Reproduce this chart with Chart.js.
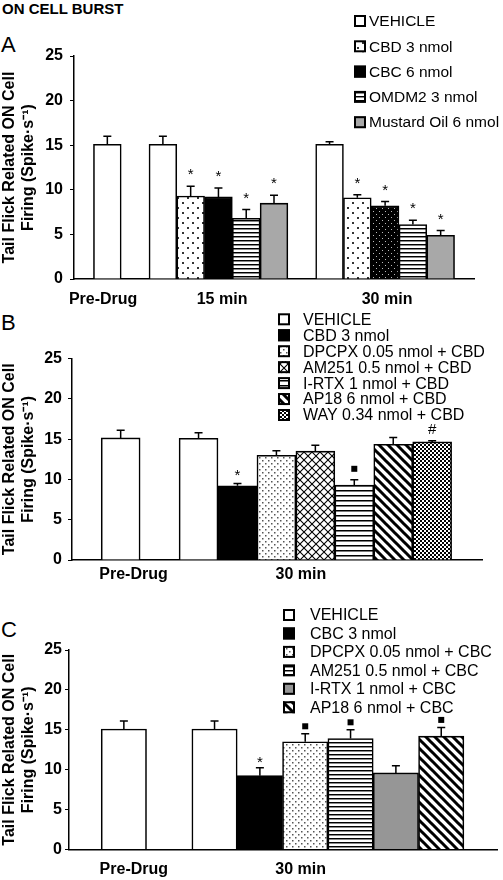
<!DOCTYPE html>
<html>
<head>
<meta charset="utf-8">
<script src="https://cdn.jsdelivr.net/npm/chart.js@4.4.1/dist/chart.umd.min.js"></script>
<style>
  html, body { margin: 0; padding: 0; background: #fff; }
  body { width: 503px; height: 880px; position: relative; overflow: hidden; font-family: 'Liberation Sans', Arial, sans-serif; }
  canvas { position: absolute; left: 0; }
  .lbl { position: absolute; line-height: 1; color: #000; white-space: nowrap; }
</style>
</head>
<body>
<div class="lbl" style="left:2px;top:1px;font-size:15px;font-weight:bold">ON CELL BURST</div>
<div class="lbl" style="left:1px;top:34px;font-size:22px">A</div>
<div class="lbl" style="left:1px;top:312px;font-size:22px">B</div>
<div class="lbl" style="left:1px;top:619px;font-size:22px">C</div>
<canvas id="chartA" width="503" height="310" style="top:0"></canvas>
<canvas id="chartB" width="503" height="290" style="top:300px"></canvas>
<canvas id="chartC" width="503" height="290" style="top:590px"></canvas>
<script>
// ---------------- data ----------------
const yTitle = ['Tail Flick Related ON Cell', 'Firing (Spike·s⁻¹)'];

// panel A
const timesA = ['Pre-Drug', '15 min', '30 min'];
const groupsA = ['VEHICLE', 'CBD 3 nmol', 'CBC 6 nmol', 'OMDM2 3 nmol', 'Mustard Oil 6 nmol'];
const meanA = [
  [15.1, 15.1, 15.1],
  [null, 9.3, 9.1],
  [null, 9.2, 8.2],
  [null, 6.8, 6.1],
  [null, 8.5, 4.9]
];
const semA = [
  [0.9, 0.9, 0.3],
  [null, 1.1, 0.35],
  [null, 1.0, 0.5],
  [null, 1.0, 0.5],
  [null, 0.9, 0.55]
];
const markA = [
  [null, null, null],
  [null, '*', '*'],
  [null, '*', '*'],
  [null, '*', '*'],
  [null, '*', '*']
];

// panel B
const timesB = ['Pre-Drug', '30 min'];
const groupsB = ['VEHICLE', 'CBD 3 nmol', 'DPCPX 0.05 nmol + CBD', 'AM251 0.5 nmol + CBD',
  'I-RTX 1 nmol + CBD', 'AP18 6 nmol + CBD', 'WAY 0.34 nmol + CBD'];
const meanB = [[15.15, 15.1], [null, 9.2], [null, 13.0], [null, 13.5], [null, 9.3], [null, 14.35], [null, 14.65]];
const semB = [[0.95, 0.7], [null, 0.3], [null, 0.55], [null, 0.75], [null, 0.65], [null, 0.85], [null, 0.15]];
const markB = [[null, null], [null, '*'], [null, null], [null, null], [null, '■'], [null, null], [null, '#']];

// panel C
const timesC = ['Pre-Drug', '30 min'];
const groupsC = ['VEHICLE', 'CBC 3 nmol', 'DPCPX 0.05 nmol + CBC', 'AM251 0.5 nmol + CBC',
  'I-RTX 1 nmol + CBC', 'AP18 6 nmol + CBC'];
const meanC = [[15.1, 15.1], [null, 9.25], [null, 13.5], [null, 13.9], [null, 9.6], [null, 14.2]];
const semC = [[1.0, 1.0], [null, 1.0], [null, 1.0], [null, 1.1], [null, 0.9], [null, 1.1]];
const markC = [[null, null], [null, '*'], [null, '■'], [null, '■'], [null, null], [null, '■']];

// ---------------- fills ----------------
function tile(w, h, draw) {
  const t = document.createElement('canvas');
  t.width = w; t.height = h;
  const c = t.getContext('2d');
  c.fillStyle = '#fff';
  c.fillRect(0, 0, w, h);
  draw(c);
  return c.createPattern(t, 'repeat');
}

function fill(kind) {
  switch (kind) {
    case 'white': return '#fff';
    case 'black': return '#000';
    case 'gray': return '#a8a8a8';
    case 'darkGray': return '#969696';
    case 'dots': return tile(10, 10, c => {
      c.fillStyle = '#333';
      c.fillRect(2, 2, 2, 2); c.fillRect(7, 7, 2, 2);
    });
    case 'fineDots': return tile(6, 6, c => {
      c.fillStyle = '#555';
      c.fillRect(1, 1, 1.5, 1.5); c.fillRect(4, 4, 1.5, 1.5);
    });
    case 'blackDots': return tile(6, 6, c => {
      c.fillStyle = '#000'; c.fillRect(0, 0, 6, 6);
      c.fillStyle = '#bbb';
      c.fillRect(1, 1, 1, 1); c.fillRect(4, 4, 1, 1);
    });
    case 'hlines': return tile(4, 4, c => {
      c.fillStyle = '#000'; c.fillRect(0, 0, 4, 1);
      c.fillStyle = '#888'; c.fillRect(0, 1, 4, 1);
    });
    case 'hlinesWide': return tile(5, 5, c => {
      c.fillStyle = '#000'; c.fillRect(0, 0, 5, 1.5);
      c.fillStyle = '#777'; c.fillRect(0, 1.5, 5, 0.5);
    });
    case 'cross': return tile(8, 8, c => {
      c.strokeStyle = '#000'; c.lineWidth = 1.1;
      c.beginPath();
      c.moveTo(0, 0); c.lineTo(8, 8);
      c.moveTo(8, 0); c.lineTo(0, 8);
      c.stroke();
    });
    case 'diag': return tile(9, 9, c => {
      c.strokeStyle = '#000'; c.lineWidth = 3;
      c.beginPath();
      [-9, 0, 9].forEach(d => { c.moveTo(-1, -1 + d); c.lineTo(10, 10 + d); });
      c.stroke();
    });
    case 'checker': return tile(4, 4, c => {
      c.fillStyle = '#000';
      c.fillRect(0, 0, 2, 2); c.fillRect(2, 2, 2, 2);
    });
  }
  return '#fff';
}

// ---------------- plugins ----------------
const errorBars = {
  id: 'errorBars',
  afterDatasetsDraw(chart, args, o) {
    const ctx = chart.ctx;
    const y = chart.scales.y;
    ctx.save();
    chart.data.datasets.forEach((ds, i) => {
      chart.getDatasetMeta(i).data.forEach((bar, j) => {
        const top = y.getPixelForValue(ds.data[j].y + ds.errs[j]);
        ctx.strokeStyle = '#000';
        ctx.lineWidth = 1.5;
        ctx.beginPath();
        ctx.moveTo(bar.x, bar.y);
        ctx.lineTo(bar.x, top);
        ctx.moveTo(bar.x - o.cap, top);
        ctx.lineTo(bar.x + o.cap, top);
        ctx.stroke();
        const m = ds.marks[j];
        if (!m) return;
        const cy = top - o.gap;
        ctx.fillStyle = '#000';
        if (m === '■') {
          ctx.fillRect(bar.x - 3, cy - 3, 6, 6);
        } else {
          ctx.font = '15px "Liberation Sans", Arial, sans-serif';
          ctx.textAlign = 'center';
          ctx.textBaseline = 'middle';
          ctx.fillText(m, bar.x, m === '*' ? cy + 3 : cy);
        }
      });
    });
    ctx.restore();
  }
};

const boxLegend = {
  id: 'boxLegend',
  afterDraw(chart, args, o) {
    const ctx = chart.ctx;
    ctx.save();
    ctx.font = o.size + 'px "Liberation Sans", Arial, sans-serif';
    ctx.textBaseline = 'middle';
    ctx.textAlign = 'left';
    chart.data.datasets.forEach((ds, i) => {
      const cy = o.y + i * o.step;
      ctx.fillStyle = ds.swatch;
      ctx.fillRect(o.x, cy - 6, 12, 12);
      ctx.strokeStyle = '#000';
      ctx.lineWidth = 2;
      ctx.strokeRect(o.x + 1, cy - 5, 10, 10);
      ctx.fillStyle = '#000';
      ctx.fillText(ds.label, o.textX, cy + 1);
    });
    ctx.restore();
  }
};

Chart.defaults.font.family = "'Liberation Sans', Arial, sans-serif";
Chart.defaults.color = '#000';

// ---------------- panels ----------------
function buildPanel(id, p) {
  // slot positions: one slot per bar, one empty slot between time groups
  const slot = p.groups.map(() => []);
  const tickVals = [];
  let next = 0;
  p.times.forEach((tm, t) => {
    const first = next;
    p.groups.forEach((g, gi) => {
      if (p.mean[gi][t] !== null) slot[gi][t] = next++;
    });
    tickVals.push((first + next - 1) / 2 + p.nudge[t]);
    next++;
  });

  const datasets = p.groups.map((g, gi) => {
    const data = [], errs = [], marks = [], bgs = [];
    p.times.forEach((tm, t) => {
      const v = p.mean[gi][t];
      if (v === null) return;
      data.push({ x: slot[gi][t], y: v });
      errs.push(p.sem[gi][t]);
      marks.push(p.mark[gi][t]);
      const ov = p.override && p.override.group === gi && p.override.time === t;
      bgs.push(fill(ov ? p.override.fill : p.fills[gi]));
    });
    return {
      label: g,
      data,
      errs,
      marks,
      swatch: fill(p.fills[gi]),
      backgroundColor: bgs,
      borderColor: '#000',
      borderWidth: 1.6,
      grouped: false,
      barPercentage: 1,
      categoryPercentage: 1
    };
  });

  new Chart(document.getElementById(id), {
    type: 'bar',
    data: { datasets },
    options: {
      responsive: false,
      animation: false,
      devicePixelRatio: 1,
      layout: { padding: { top: p.padTop, right: p.padRight, bottom: p.padBottom, left: 0 } },
      plugins: {
        legend: { display: false },
        tooltip: { enabled: false },
        errorBars: { cap: 4, gap: p.markGap },
        boxLegend: p.legend
      },
      scales: {
        x: {
          type: 'linear',
          min: p.xMin,
          max: p.xMax,
          offset: false,
          afterBuildTicks: ax => { ax.ticks = tickVals.map(v => ({ value: v })); },
          ticks: {
            callback: (v, i) => p.times[i],
            font: { size: 16, weight: 'bold' },
            padding: p.xPad,
            autoSkip: false,
            maxRotation: 0,
            minRotation: 0
          },
          grid: { display: false, drawTicks: false },
          border: { display: true, color: '#000', width: 1.5 },
          afterFit: ax => { ax.height = 30; }
        },
        y: {
          min: 0,
          max: 25,
          ticks: { stepSize: 5, font: { size: 16, weight: 'bold' }, padding: p.yPad },
          grid: { drawOnChartArea: false, drawTicks: true, tickLength: 4, color: '#000', lineWidth: 1 },
          border: { display: true, color: '#000', width: 1.5 },
          title: {
            display: true,
            text: yTitle,
            font: { size: 16, weight: 'bold', lineHeight: 1.2 },
            padding: 0
          },
          afterFit: ax => { ax.width = p.left; }
        }
      }
    },
    plugins: [errorBars, boxLegend]
  });
}

buildPanel('chartA', {
  times: timesA, groups: groupsA, mean: meanA, sem: semA, mark: markA,
  fills: ['white', 'dots', 'black', 'hlines', 'gray'],
  override: { group: 2, time: 2, fill: 'blackDots' },
  nudge: [-0.15, 0.13, 0.07],
  xMin: -1.2, xMax: 13.2,
  padTop: 56, padRight: 29, padBottom: 1, left: 74,
  xPad: 11, yPad: 7, markGap: 14,
  legend: { x: 354, textX: 369, y: 21, step: 25.3, size: 15.5 }
});

buildPanel('chartB', {
  times: timesB, groups: groupsB, mean: meanB, sem: semB, mark: markB,
  fills: ['white', 'black', 'fineDots', 'cross', 'hlinesWide', 'diag', 'checker'],
  nudge: [0.33, -0.37],
  xMin: -1.25, xMax: 9.28,
  padTop: 58.5, padRight: 21, padBottom: 0, left: 72,
  xPad: 5, yPad: 6, markGap: 11,
  legend: { x: 278, textX: 303, y: 19.3, step: 15.95, size: 16 }
});

buildPanel('chartC', {
  times: timesC, groups: groupsC, mean: meanC, sem: semC, mark: markC,
  fills: ['white', 'black', 'fineDots', 'hlines', 'darkGray', 'diag'],
  nudge: [0.22, -0.6],
  xMin: -1.21, xMax: 8.23,
  padTop: 60, padRight: 6, padBottom: 0.5, left: 69,
  xPad: 10, yPad: 3, markGap: 7.5,
  legend: { x: 283, textX: 310, y: 25, step: 18.45, size: 16 }
});
</script>
</body>
</html>
